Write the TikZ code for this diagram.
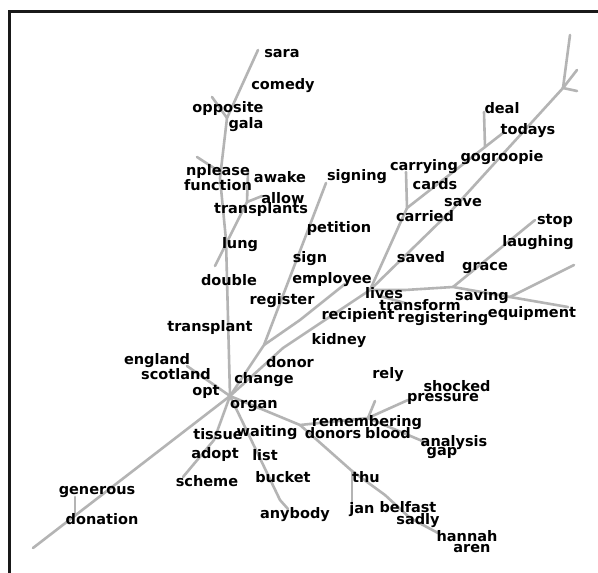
\documentclass[tikz,border=0pt]{standalone}
\usepackage{fontspec}
\setmainfont{DejaVu Sans}
\definecolor{linegray}{RGB}{180,180,180}
\tikzset{
  branch/.style={draw=linegray, line width=2.6pt, line cap=round, line join=round},
  wlabel/.style={font=\bfseries\fontsize{14.5}{15}\selectfont, inner sep=0pt, anchor=base, text=black},
  frameline/.style={draw=black!90, line width=2.5pt}
}
\begin{document}
\begin{tikzpicture}[x=1pt,y=-1pt]
\useasboundingbox (0,0) rectangle (598,573);
\fill[white] (0,0) rectangle (598,573);
% frame
\coordinate (F1) at (9.7,573);
\coordinate (F2) at (9.7,11.3);
\coordinate (F3) at (598,11.3);
\draw[frameline] (F1) -- (F2) -- (F3);
% coordinates
\coordinate (H) at (230,396);
\coordinate (T0) at (33,548);
\coordinate (G0) at (75,516);
\coordinate (G1) at (75,497);
\coordinate (E0) at (187,366);
\coordinate (S1) at (214,440);
\coordinate (S2) at (183,477);
\coordinate (W1) at (245,427);
\coordinate (W2) at (280,500);
\coordinate (W3) at (288,509);
\coordinate (D1) at (300,425);
\coordinate (D2) at (317,440);
\coordinate (TH) at (352,471);
\coordinate (J1) at (352,505);
\coordinate (B1) at (385,495);
\coordinate (B2) at (410,518);
\coordinate (B3) at (438,533);
\coordinate (RM) at (368,418);
\coordinate (RL) at (375,401);
\coordinate (PR) at (408,400);
\coordinate (AN) at (427,443);
\coordinate (R0) at (264,345);
\coordinate (SG) at (326,183);
\coordinate (EM1) at (300,320);
\coordinate (EM2) at (345,284);
\coordinate (K1) at (283,348);
\coordinate (L) at (370,290);
\coordinate (MD1) at (452,210);
\coordinate (TR) at (563,88);
\coordinate (TR1) at (570,35);
\coordinate (TR2) at (577,70);
\coordinate (TR3) at (577,91);
\coordinate (C) at (407,208);
\coordinate (CA) at (406,172);
\coordinate (DF) at (485,147);
\coordinate (DL) at (484,112);
\coordinate (TD) at (503,133);
\coordinate (SV1) at (405,290);
\coordinate (SV2) at (453,287);
\coordinate (SV3) at (510,297);
\coordinate (ST) at (535,220);
\coordinate (EQ1) at (574,265);
\coordinate (EQ2) at (568,307);
\coordinate (TF0) at (380,296);
\coordinate (TF) at (405,303);
\coordinate (LT1) at (226,240);
\coordinate (LT2) at (220,178);
\coordinate (LT3) at (227,118);
\coordinate (SA) at (258,50);
\coordinate (OP) at (212,97);
\coordinate (NP) at (197,157);
\coordinate (NPJ) at (220,172);
\coordinate (DB) at (215,266);
\coordinate (AW1) at (247,202);
\coordinate (AW2) at (248,172);
\coordinate (AL2) at (262,196);
% branches
\draw[branch] (T0) -- (H);
\draw[branch] (G0) -- (G1);
\draw[branch] (E0) -- (H);
\draw[branch] (H) -- (S1) -- (S2);
\draw[branch] (H) -- (W1) -- (W2) -- (W3);
\draw[branch] (H) -- (D1) -- (RM);
\draw[branch] (D1) -- (D2) -- (TH) -- (B1) -- (B2) -- (B3);
\draw[branch] (TH) -- (J1);
\draw[branch] (RM) -- (RL);
\draw[branch] (RM) -- (PR);
\draw[branch] (RM) -- (AN);
\draw[branch] (H) -- (R0) -- (SG);
\draw[branch] (R0) -- (EM1) -- (EM2);
\draw[branch] (H) -- (K1) -- (L);
\draw[branch] (L) -- (MD1) -- (TR);
\draw[branch] (TR) -- (TR1);
\draw[branch] (TR) -- (TR2);
\draw[branch] (TR) -- (TR3);
\draw[branch] (L) -- (C) -- (CA);
\draw[branch] (C) -- (DF) -- (DL);
\draw[branch] (DF) -- (TD);
\draw[branch] (L) -- (SV1) -- (SV2) -- (SV3);
\draw[branch] (SV2) -- (ST);
\draw[branch] (SV3) -- (EQ1);
\draw[branch] (SV3) -- (EQ2);
\draw[branch] (TF0) -- (TF);
\draw[branch] (H) -- (LT1) -- (LT2) -- (LT3) -- (SA);
\draw[branch] (OP) -- (LT3);
\draw[branch] (NP) -- (NPJ);
\draw[branch] (DB) -- (AW1) -- (AW2);
\draw[branch] (AW1) -- (AL2);
% labels
\node[wlabel] (sara) at (282,57) {sara};
\node[wlabel] (comedy) at (283,89) {comedy};
\node[wlabel] (opposite) at (228,112) {opposite};
\node[wlabel] (gala) at (246,128) {gala};
\node[wlabel] (nplease) at (218,175) {nplease};
\node[wlabel] (function) at (218,190) {function};
\node[wlabel] (awake) at (280,182) {awake};
\node[wlabel] (allow) at (283,203) {allow};
\node[wlabel] (transplants) at (261,213) {transplants};
\node[wlabel] (petition) at (339,232) {petition};
\node[wlabel] (signing) at (357,180) {signing};
\node[wlabel] (lung) at (240,248) {lung};
\node[wlabel] (sign) at (310,262) {sign};
\node[wlabel] (double) at (229,285) {double};
\node[wlabel] (employee) at (332,283) {employee};
\node[wlabel] (register) at (282,304) {register};
\node[wlabel] (transplant) at (210,331) {transplant};
\node[wlabel] (england) at (157,364) {england};
\node[wlabel] (scotland) at (176,379) {scotland};
\node[wlabel] (change) at (264,383) {change};
\node[wlabel] (opt) at (206,395) {opt};
\node[wlabel] (organ) at (254,408) {organ};
\node[wlabel] (donor) at (290,367) {donor};
\node[wlabel] (kidney) at (339,344) {kidney};
\node[wlabel] (recipient) at (358,319) {recipient};
\node[wlabel] (lives) at (384,298) {lives};
\node[wlabel] (transform) at (420,310) {transform};
\node[wlabel] (registering) at (443,322) {registering};
\node[wlabel] (saving) at (482,300) {saving};
\node[wlabel] (equipment) at (532,317) {equipment};
\node[wlabel] (grace) at (485,270) {grace};
\node[wlabel] (laughing) at (538,246) {laughing};
\node[wlabel] (stop) at (555,224) {stop};
\node[wlabel] (saved) at (421,262) {saved};
\node[wlabel] (carried) at (425,221) {carried};
\node[wlabel] (save) at (463,206) {save};
\node[wlabel] (cards) at (435,189) {cards};
\node[wlabel] (carrying) at (424,170) {carrying};
\node[wlabel] (gogroopie) at (502,161) {gogroopie};
\node[wlabel] (todays) at (528,134) {todays};
\node[wlabel] (deal) at (502,113) {deal};
\node[wlabel] (rely) at (388,378) {rely};
\node[wlabel] (shocked) at (457,391) {shocked};
\node[wlabel] (pressure) at (443,401) {pressure};
\node[wlabel] (remembering) at (367,426) {remembering};
\node[wlabel] (donors) at (333,438) {donors};
\node[wlabel] (blood) at (388,438) {blood};
\node[wlabel] (analysis) at (454,446) {analysis};
\node[wlabel] (gap) at (442,455) {gap};
\node[wlabel] (tissue) at (218,439) {tissue};
\node[wlabel] (waiting) at (267,436) {waiting};
\node[wlabel] (adopt) at (215,458) {adopt};
\node[wlabel] (list) at (265,460) {list};
\node[wlabel] (scheme) at (207,486) {scheme};
\node[wlabel] (bucket) at (283,482) {bucket};
\node[wlabel] (anybody) at (295,518) {anybody};
\node[wlabel] (thu) at (366,482) {thu};
\node[wlabel] (jan) at (362,513) {jan};
\node[wlabel] (belfast) at (408,512) {belfast};
\node[wlabel] (sadly) at (418,524) {sadly};
\node[wlabel] (hannah) at (467,541) {hannah};
\node[wlabel] (aren) at (472,552) {aren};
\node[wlabel] (generous) at (97,494) {generous};
\node[wlabel] (donation) at (102,524) {donation};
\end{tikzpicture}
\end{document}
